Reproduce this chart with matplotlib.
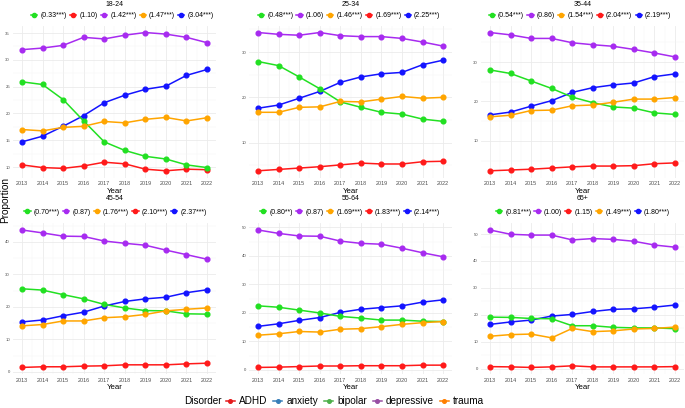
import matplotlib
matplotlib.use("Agg")
import matplotlib.pyplot as plt
from matplotlib.lines import Line2D
import numpy as np

plt.rcParams['font.family'] = ['Liberation Sans', 'DejaVu Sans']

years = list(range(2013, 2023))
age_groups = ["18-24", "25-34", "35-44", "45-54", "55-64", "65+"]

adhd = {
    "18-24": [10.4, 9.9, 9.75, 10.2, 10.9, 10.6, 9.6, 9.3, 9.6, 9.5],
    "25-34": [3.8, 4.1, 4.4, 4.7, 5.1, 5.5, 5.3, 5.3, 5.8, 5.9],
    "35-44": [2.4, 2.6, 2.8, 3.1, 3.4, 3.6, 3.6, 3.7, 4.2, 4.4],
    "45-54": [1.4, 1.6, 1.6, 1.8, 1.9, 2.2, 2.2, 2.2, 2.5, 2.7],
    "55-64": [0.9, 1.0, 1.2, 1.4, 1.4, 1.5, 1.5, 1.5, 1.7, 1.7],
    "65+":   [0.7, 0.6, 0.4, 0.6, 1.0, 0.6, 0.6, 0.6, 0.6, 0.7],
}
anxiety = {
    "18-24": [14.7, 15.75, 17.6, 19.6, 22.0, 23.4, 24.5, 25.1, 27.1, 28.2],
    "25-34": [17.6, 18.3, 19.8, 21.3, 23.3, 24.5, 25.2, 25.5, 27.2, 28.2],
    "35-44": [16.6, 17.3, 18.8, 20.2, 22.3, 23.5, 24.2, 24.7, 26.3, 27.0],
    "45-54": [15.4, 16.0, 17.3, 18.4, 20.3, 21.7, 22.5, 23.0, 24.4, 25.3],
    "55-64": [15.3, 16.2, 17.4, 18.4, 20.2, 21.3, 21.9, 22.5, 23.8, 24.6],
    "65+":   [16.4, 17.3, 18.0, 19.5, 20.1, 21.2, 22.0, 22.2, 22.8, 23.6],
}
bipolar = {
    "18-24": [25.9, 25.4, 22.6, 18.6, 14.7, 13.1, 12.0, 11.5, 10.4, 9.9],
    "25-34": [27.9, 27.0, 24.5, 21.9, 19.0, 17.8, 16.7, 16.3, 15.2, 14.7],
    "35-44": [28.0, 27.1, 25.2, 23.3, 21.1, 19.7, 18.6, 18.3, 17.1, 16.7],
    "45-54": [25.6, 25.2, 23.8, 22.5, 20.8, 19.7, 18.9, 18.8, 17.9, 17.8],
    "55-64": [22.5, 22.0, 21.0, 20.0, 18.8, 18.2, 17.5, 17.5, 17.1, 17.0],
    "65+":   [19.1, 19.0, 18.6, 18.5, 15.9, 15.9, 15.3, 15.1, 15.1, 14.8],
}
depressive = {
    "18-24": [31.9, 32.2, 32.7, 34.2, 33.9, 34.6, 35.1, 34.8, 34.2, 33.2],
    "25-34": [34.3, 33.9, 33.7, 34.3, 33.6, 33.4, 33.4, 33.0, 32.2, 31.3],
    "35-44": [37.5, 36.9, 36.0, 36.0, 34.9, 34.4, 34.0, 33.2, 32.3, 31.3],
    "45-54": [43.7, 42.8, 41.8, 41.7, 40.3, 39.6, 39.0, 37.5, 36.1, 34.7],
    "55-64": [49.1, 47.9, 47.0, 46.9, 45.2, 44.4, 44.1, 42.7, 41.1, 39.7],
    "65+":   [51.5, 49.9, 49.6, 49.6, 47.8, 48.3, 48.0, 47.3, 45.9, 45.1],
}
trauma = {
    "18-24": [17.0, 16.75, 17.4, 17.6, 18.5, 18.25, 18.9, 19.25, 18.6, 19.2],
    "25-34": [16.7, 16.7, 17.8, 17.9, 19.1, 19.0, 19.6, 20.2, 19.8, 20.0],
    "35-44": [16.1, 16.5, 17.7, 17.8, 18.9, 19.1, 19.8, 20.6, 20.6, 21.0],
    "45-54": [14.2, 14.6, 15.7, 15.7, 16.7, 17.0, 17.7, 18.8, 19.3, 19.7],
    "55-64": [12.2, 12.7, 13.5, 13.3, 14.3, 14.5, 15.2, 16.0, 16.6, 17.0],
    "65+":   [12.0, 12.6, 12.8, 11.4, 14.9, 13.7, 14.0, 14.7, 14.9, 15.4],
}

# per-panel legend labels (ratio with significance), in legend order
legend_order = {
    "18-24": [("bipolar", "(0.33***)"), ("ADHD", "(1.10)"), ("depressive", "(1.42***)"),
              ("trauma", "(1.47***)"), ("anxiety", "(3.04***)")],
    "25-34": [("bipolar", "(0.48***)"), ("depressive", "(1.06)"), ("trauma", "(1.46***)"),
              ("ADHD", "(1.69***)"), ("anxiety", "(2.25***)")],
    "35-44": [("bipolar", "(0.54***)"), ("depressive", "(0.86)"), ("trauma", "(1.54***)"),
              ("ADHD", "(2.04***)"), ("anxiety", "(2.19***)")],
    "45-54": [("bipolar", "(0.70***)"), ("depressive", "(0.87)"), ("trauma", "(1.76***)"),
              ("ADHD", "(2.10***)"), ("anxiety", "(2.37***)")],
    "55-64": [("bipolar", "(0.80**)"), ("depressive", "(0.87)"), ("trauma", "(1.69***)"),
              ("ADHD", "(1.83***)"), ("anxiety", "(2.14***)")],
    "65+":   [("bipolar", "(0.81***)"), ("depressive", "(1.00)"), ("ADHD", "(1.15)"),
              ("trauma", "(1.49***)"), ("anxiety", "(1.80***)")],
}

y_ticks = {
    "18-24": [10, 15, 20, 25, 30, 35],
    "25-34": [10, 20, 30],
    "35-44": [10, 20, 30],
    "45-54": [0, 10, 20, 30, 40],
    "55-64": [0, 10, 20, 30, 40, 50],
    "65+":   [0, 10, 20, 30, 40, 50],
}

series = {"ADHD": adhd, "anxiety": anxiety, "bipolar": bipolar,
          "depressive": depressive, "trauma": trauma}
panel_colors = {"ADHD": "#FF1A1A", "anxiety": "#1414FF", "bipolar": "#22E022",
                "depressive": "#A72BF0", "trauma": "#FFA500"}
legend_colors = {"ADHD": "#E41A1C", "anxiety": "#377EB8", "bipolar": "#4DAF4A",
                 "depressive": "#984EA3", "trauma": "#FF7F00"}
draw_order = ["ADHD", "anxiety", "bipolar", "depressive", "trauma"]

W, H = 685, 408
fig = plt.figure(figsize=(W / 100, H / 100), dpi=100)

col_left = [12.7, 248.8, 480.7]
col_w = 203.6
row_top = [25.6, 223.1]
row_h = [152.1, 151.2]
title_y = [4.5, 198.5]
leg_y = [15.5, 212.0]
leg_cx = [122.5, 349, 580, 115.5, 350, 583]

for i, g in enumerate(age_groups):
    r, c = divmod(i, 3)
    left = col_left[c] / W
    bottom = 1 - (row_top[r] + row_h[r]) / H
    ax = fig.add_axes([left, bottom, col_w / W, row_h[r] / H])
    for d in draw_order:
        ax.plot(years, series[d][g], color=panel_colors[d], lw=1.1,
                marker="o", ms=3.4, zorder=3)
    allv = np.concatenate([series[d][g] for d in draw_order])
    lo, hi = allv.min(), allv.max()
    pad = 0.05 * (hi - lo)
    ax.set_xlim(2013 - 0.45, 2022 + 0.45)
    ax.set_xticks(years)
    ax.set_xticklabels([str(y) for y in years])
    ax.set_xticks([y + 0.5 for y in years[:-1]], minor=True)
    yt = y_ticks[g]
    ax.set_yticks(yt)
    step = yt[1] - yt[0]
    ax.set_yticks([t + step / 2 for t in [yt[0] - step] + yt], minor=True)
    ax.set_ylim(lo - pad, hi + pad)
    ax.grid(True, which="major", color="#EBEBEB", lw=0.6, zorder=0)
    ax.grid(True, which="minor", color="#F4F4F4", lw=0.35, zorder=0)
    for s in ax.spines.values():
        s.set_visible(False)
    ax.tick_params(which="both", length=0)
    ax.tick_params(axis="x", labelsize=3.9, colors="#4D4D4D", pad=2.5)
    ax.tick_params(axis="y", labelsize=3.1, colors="#4D4D4D", pad=2)
    ax.set_xlabel("Year", fontsize=5.6, labelpad=1)

    handles = [Line2D([0], [0], color=panel_colors[d], lw=1.1, marker="o", ms=3.0)
               for d, _ in legend_order[g]]
    labels = [lab for _, lab in legend_order[g]]
    fig.legend(handles, labels, loc="center",
               bbox_to_anchor=(leg_cx[i] / W, 1 - leg_y[r] / H),
               ncol=5, frameon=False, fontsize=5.0, handlelength=0.9,
               handletextpad=0.45, columnspacing=0.45, borderaxespad=0,
               borderpad=0)
    fig.text((col_left[c] + col_w / 2) / W, 1 - title_y[r] / H, g,
             ha="center", va="center", fontsize=5.0)

fig.text(5 / W, 1 - 200 / H, "Proportion", rotation=90, ha="center",
         va="center", fontsize=7.2)

# bottom legend
fig.text(184 / W, 1 - 401 / H, "Disorder", ha="left", va="center", fontsize=7.2)
bh = [Line2D([0], [0], color=legend_colors[d], lw=1.1, marker="o", ms=2.6)
      for d in draw_order]
fig.legend(bh, draw_order, loc="center left", bbox_to_anchor=(226 / W, 1 - 401 / H),
           ncol=5, frameon=False, fontsize=7.2, handlelength=0.9,
           handletextpad=0.4, columnspacing=0.6, borderaxespad=0, borderpad=0)

fig.savefig("out.png", dpi=100)
